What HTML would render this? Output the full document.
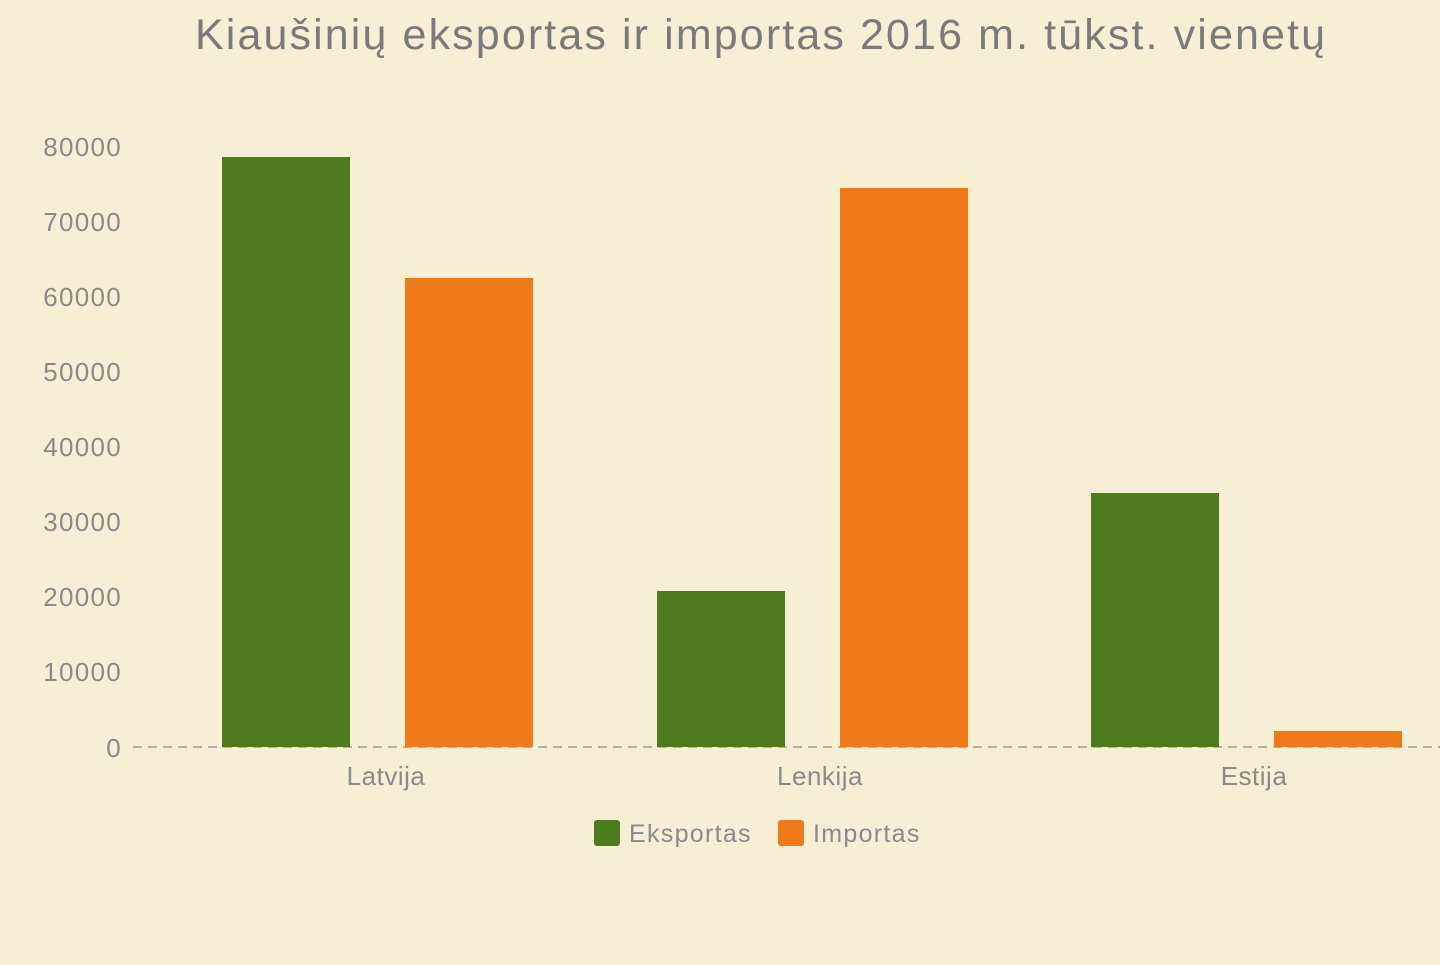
<!DOCTYPE html>
<html><head><meta charset="utf-8"><style>
html,body{margin:0;padding:0;}
body{width:1440px;height:960px;background:#f6efd4;font-family:"Liberation Sans",sans-serif;overflow:hidden;}
</style></head><body>
<svg width="1440" height="960" xmlns="http://www.w3.org/2000/svg">
<rect width="1440" height="960" fill="#f6efd4"/>
<text x="195" y="49" font-size="43" fill="#7a7a7a" textLength="1130" lengthAdjust="spacing" font-family="Liberation Sans, sans-serif">Kiaušinių eksportas ir importas 2016 m. tūkst. vienetų</text>
<g font-size="26" fill="#8a8a8a" text-anchor="end" letter-spacing="1.3" font-family="Liberation Sans, sans-serif">
<text x="122" y="156">80000</text>
<text x="122" y="231">70000</text>
<text x="122" y="306">60000</text>
<text x="122" y="381">50000</text>
<text x="122" y="456">40000</text>
<text x="122" y="531">30000</text>
<text x="122" y="606">20000</text>
<text x="122" y="681">10000</text>
<text x="122" y="757">0</text>
</g>
<line x1="133" y1="747" x2="1440" y2="747" stroke="#b5b0a0" stroke-width="2" stroke-dasharray="9,6"/>
<g fill="#4e7a1e">
<rect x="222" y="157" width="128" height="590"/>
<rect x="657" y="591" width="128" height="156"/>
<rect x="1091" y="493" width="128" height="254"/>
</g>
<g fill="#ee7a1a">
<rect x="405" y="278" width="128" height="469"/>
<rect x="840" y="188" width="128" height="559"/>
<rect x="1274" y="731" width="128" height="16"/>
</g>
<g font-size="26" fill="#8a8a8a" text-anchor="middle" letter-spacing="0.5" font-family="Liberation Sans, sans-serif">
<text x="386" y="785">Latvija</text>
<text x="820" y="785">Lenkija</text>
<text x="1254" y="785">Estija</text>
</g>
<rect x="594" y="820" width="26" height="26" rx="3" fill="#4e7a1e"/>
<text x="629" y="842" font-size="25" fill="#8a8a8a" letter-spacing="1.3" font-family="Liberation Sans, sans-serif">Eksportas</text>
<rect x="778" y="820" width="26" height="26" rx="3" fill="#ee7a1a"/>
<text x="813" y="842" font-size="25" fill="#8a8a8a" letter-spacing="1.3" font-family="Liberation Sans, sans-serif">Importas</text>
</svg>
</body></html>
